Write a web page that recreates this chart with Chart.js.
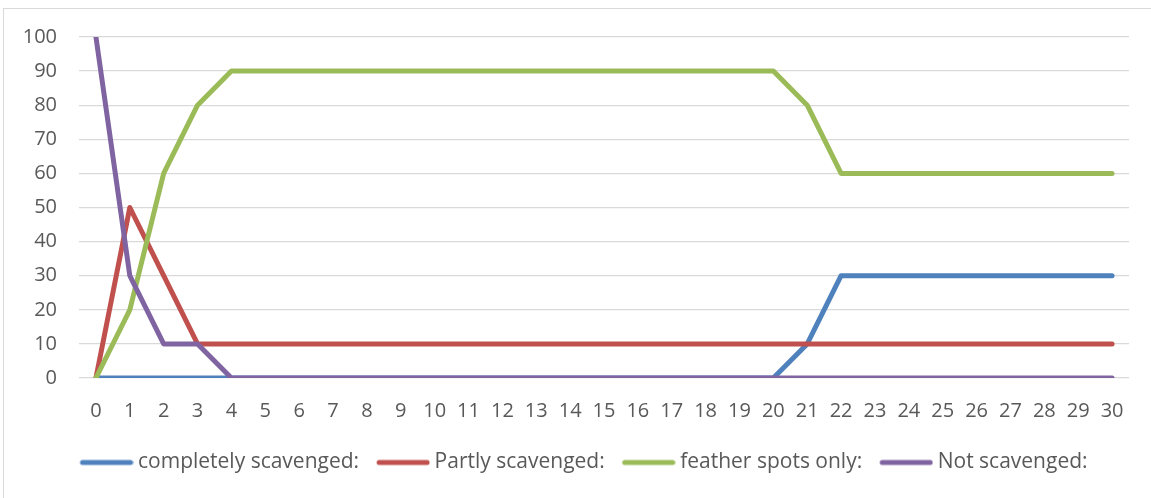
<!DOCTYPE html>
<html>
<head>
<meta charset="utf-8">
<script src="https://cdn.jsdelivr.net/npm/chart.js@4/dist/chart.umd.min.js"></script>
<style>
  html, body { margin: 0; padding: 0; background: #fff; }
  #wrap { position: absolute; left: 0; top: 0; width: 1151px; height: 498px; }
  #frame { position: absolute; left: 3px; top: 8px; width: 1160px; height: 500px;
           border-left: 1px solid #d9d9d9; border-top: 1px solid #d9d9d9; box-sizing: border-box; }
  canvas { position: absolute; left: 0; top: 0; }
</style>
</head>
<body>
<div id="wrap">
  <div id="frame"></div>
  <canvas id="c" width="1151" height="498"></canvas>
</div>
<script>
const categories = ["0","1","2","3","4","5","6","7","8","9","10","11","12","13","14","15","16","17","18","19","20","21","22","23","24","25","26","27","28","29","30"];
const completelyScavenged = [0,0,0,0,0,0,0,0,0,0,0,0,0,0,0,0,0,0,0,0,0,10,30,30,30,30,30,30,30,30,30];
const partlyScavenged = [0,50,30,10,10,10,10,10,10,10,10,10,10,10,10,10,10,10,10,10,10,10,10,10,10,10,10,10,10,10,10];
const featherSpotsOnly = [0,20,60,80,90,90,90,90,90,90,90,90,90,90,90,90,90,90,90,90,90,80,60,60,60,60,60,60,60,60,60];
const notScavenged = [100,30,10,10,0,0,0,0,0,0,0,0,0,0,0,0,0,0,0,0,0,0,0,0,0,0,0,0,0,0,0];
const seriesNames = ["completely scavenged:", "Partly scavenged:", "feather spots only:", "Not scavenged:"];
const yTicks = [0,10,20,30,40,50,60,70,80,90,100];

const FONT = "'Open Sans', sans-serif";
const FS = 20;
const LFS = 21;
const TXT = "#595959";
const LEG_W = 45;

// legend swatch: a thick rounded line, slightly longer than the legend box so it sits close to the text
function swatch(color) {
  const c = document.createElement('canvas');
  c.width = LEG_W + 12; c.height = 8;
  const g = c.getContext('2d');
  g.strokeStyle = color; g.lineWidth = 5; g.lineCap = 'round';
  g.beginPath(); g.moveTo(6, 4); g.lineTo(LEG_W + 9, 4); g.stroke();
  return c;
}

function ds(label, data, color, order) {
  return { label, data, borderColor: color, backgroundColor: color, borderWidth: 5,
           borderCapStyle: 'round', borderJoinStyle: 'round', pointRadius: 0, pointHoverRadius: 0,
           pointStyle: swatch(color), tension: 0, fill: false, order };
}

const shiftLegend = {
  id: 'shiftLegend',
  afterLayout(chart) {
    const lg = chart.legend;
    if (lg) { const d = -16.5; lg.left += d; lg.right += d; }
  }
};

new Chart(document.getElementById('c'), {
  type: 'line',
  data: {
    labels: categories,
    datasets: [
      ds(seriesNames[0], completelyScavenged, '#4F81BD', 4),
      ds(seriesNames[1], partlyScavenged, '#C0504D', 3),
      ds(seriesNames[2], featherSpotsOnly, '#9BBB59', 2),
      ds(seriesNames[3], notScavenged, '#8064A2', 1)
    ]
  },
  options: {
    responsive: false,
    animation: false,
    events: [],
    layout: { padding: { top: 37, left: 20, right: 22, bottom: 15 } },
    scales: {
      x: {
        offset: true,
        grid: { display: false, drawTicks: false },
        border: { display: false },
        ticks: { color: TXT, font: { family: FONT, size: FS }, padding: 21, maxRotation: 0, autoSkip: false },
        afterFit(s) { s.height = 54; }
      },
      y: {
        min: 0, max: 100,
        afterBuildTicks(s) { s.ticks = yTicks.map(v => ({ value: v })); },
        grid: { color: '#D9D9D9', lineWidth: 1.3, drawTicks: false },
        border: { display: false },
        ticks: { color: TXT, font: { family: FONT, size: FS }, padding: 22 },
        afterFit(s) { s.width = 59; }
      }
    },
    plugins: {
      legend: {
        position: 'bottom',
        align: 'start',
        fullSize: false,
        labels: {
          usePointStyle: true,
          pointStyleWidth: LEG_W,
          padding: 20,
          color: TXT,
          font: { family: FONT, size: LFS },
          sort: (a, b) => a.datasetIndex - b.datasetIndex
        }
      },
      tooltip: { enabled: false }
    }
  },
  plugins: [shiftLegend]
});
</script>
</body>
</html>
